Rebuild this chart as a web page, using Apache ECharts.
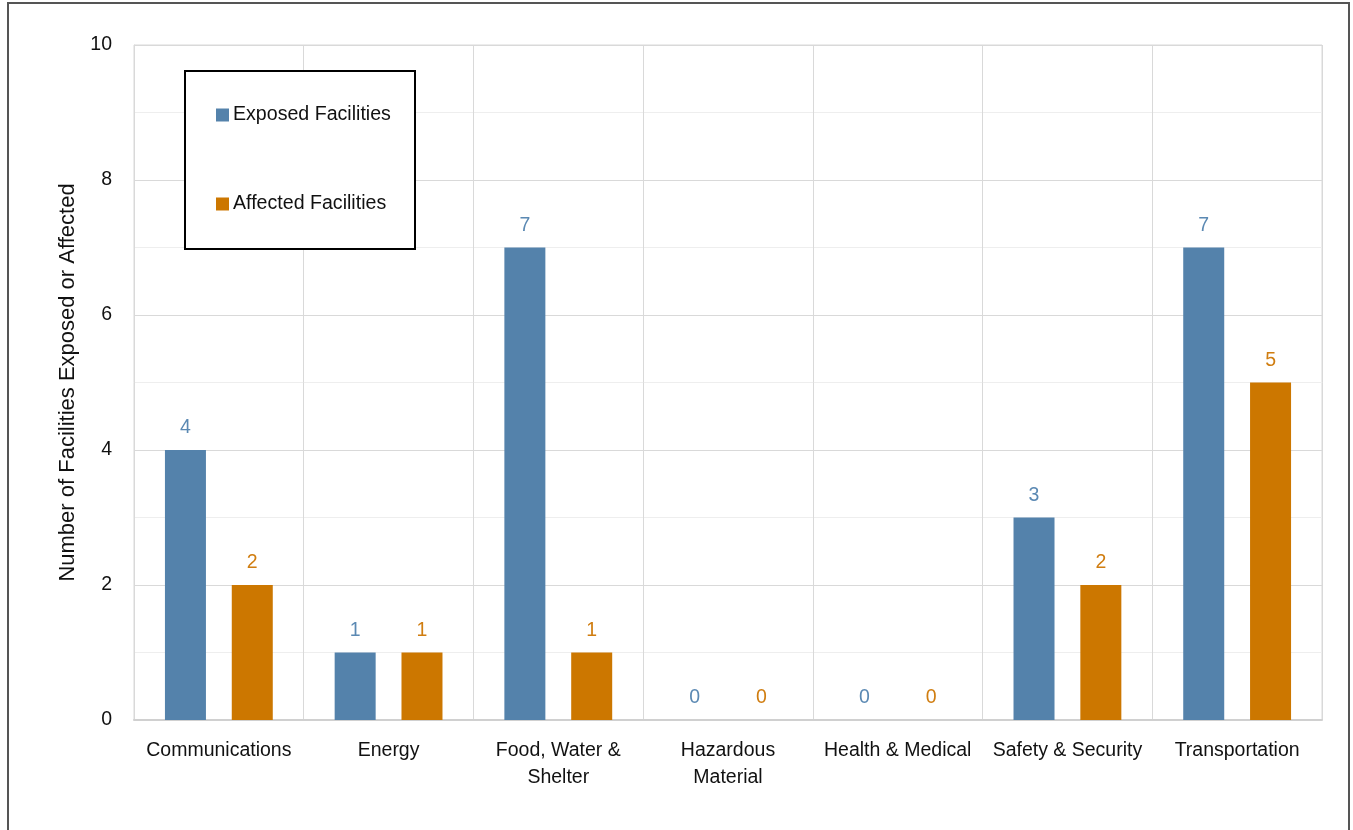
<!DOCTYPE html>
<html><head><meta charset="utf-8">
<script src="https://cdn.jsdelivr.net/npm/echarts@6/dist/echarts.min.js"></script>
<style>html,body{margin:0;padding:0;background:#fff}#c{width:1353px;height:830px}
#frame{position:absolute;left:7px;top:2px;width:1343px;height:840px;border:2px solid #555;box-sizing:border-box;pointer-events:none}</style>
</head><body><div id="c"></div><div id="frame"></div>
<script>
const categories = ['Communications','Energy','Food, Water &\nShelter','Hazardous\nMaterial','Health & Medical','Safety & Security','Transportation'];
const exposed = [4,1,7,0,0,3,7];
const affected = [2,1,1,0,0,2,5];
const seriesNames = ['Exposed Facilities','Affected Facilities'];
const yTicks = [0,2,4,6,8,10];
const blue = '#5482ab', orange = '#cc7700';
const font = 'Liberation Sans';
const chart = echarts.init(document.getElementById('c'));
chart.setOption({
  animation:false,
  textStyle:{fontFamily:font},
  grid:{left:134,right:31,top:45,bottom:110,show:true,borderColor:'#d9d9d9',borderWidth:1},
  graphic:[{type:'rect',left:184,top:70,shape:{width:230,height:178},style:{fill:'#fff',stroke:'#000',lineWidth:2},z:50}],
  legend:{orient:'vertical',left:211,top:100,itemGap:69,itemWidth:13,itemHeight:13,icon:'rect',z:60,
    textStyle:{fontFamily:font,fontSize:19.6,color:'#111',padding:[0,0,0,-1]},data:seriesNames},
  xAxis:{type:'category',data:categories,
    axisLine:{lineStyle:{color:'#d0d0d0',width:2}},axisTick:{show:false},
    splitLine:{show:true,interval:0,lineStyle:{color:'#d9d9d9',width:1}},
    axisLabel:{interval:0,fontFamily:font,fontSize:19.5,color:'#111',margin:17,lineHeight:27}},
  yAxis:{type:'value',min:0,max:10,interval:2,
    name:'Number of Facilities Exposed or Affected',nameLocation:'middle',nameGap:54,
    nameTextStyle:{fontFamily:font,fontSize:22,color:'#111'},
    axisLine:{show:true,lineStyle:{color:'#d9d9d9'}},axisTick:{show:false},
    axisLabel:{fontFamily:font,fontSize:19.5,color:'#111',margin:22,formatter:v=>yTicks.includes(v)?String(v):''},
    splitLine:{lineStyle:{color:'#d9d9d9'}},
    minorTick:{show:false,splitNumber:2},minorSplitLine:{show:true,lineStyle:{color:'#eeeeee'}}},
  series:[
    {name:seriesNames[0],type:'bar',data:exposed,barWidth:41,barGap:'63%',itemStyle:{color:blue},
      label:{show:true,position:'top',distance:12,fontFamily:font,fontSize:19.5,color:'#5b89b3'}},
    {name:seriesNames[1],type:'bar',data:affected,barWidth:41,barGap:'63%',itemStyle:{color:orange},
      label:{show:true,position:'top',distance:12,fontFamily:font,fontSize:19.5,color:'#d07d10'}}
  ]
});
</script></body></html>
